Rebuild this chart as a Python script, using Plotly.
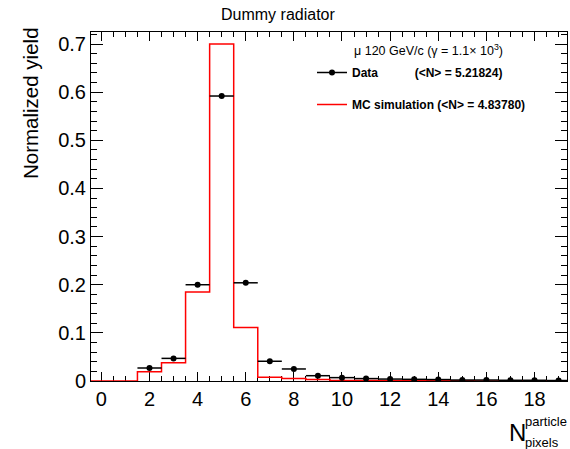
import plotly.graph_objects as go

# ---- data ----
bin_centers = list(range(0, 20))
mc_values = [0.0, 0.0, 0.019, 0.038, 0.185, 0.700, 0.111, 0.008, 0.005, 0.003,
             0.001, 0.001, 0.0006, 0.0004, 0.0003, 0.0003, 0.0002, 0.0002, 0.0002, 0.0002]
data_x = list(range(2, 20))
data_y = [0.027, 0.047, 0.200, 0.592, 0.204, 0.041, 0.025, 0.011, 0.007, 0.005,
          0.004, 0.0035, 0.003, 0.002, 0.002, 0.0015, 0.0015, 0.001]
bin_width = 1.0
x_ticks = list(range(0, 20, 2))
y_ticks = [0, 0.1, 0.2, 0.3, 0.4, 0.5, 0.6, 0.7]

FONT = "Liberation Sans, Arial, Helvetica, sans-serif"

# step histogram edges
edges = [c - bin_width / 2 for c in bin_centers] + [bin_centers[-1] + bin_width / 2]
step_y = mc_values + [mc_values[-1]]

fig = go.Figure()

fig.add_trace(go.Scatter(
    x=edges, y=step_y, mode="lines", line=dict(color="#ff0000", width=1.5, shape="hv"),
    name="<b>MC simulation (&lt;N&gt; = 4.83780)</b>", legendgroup="b", legendrank=2,
    cliponaxis=True,
))

fig.add_trace(go.Scatter(
    x=data_x, y=data_y, mode="markers",
    marker=dict(color="black", size=6),
    error_x=dict(type="constant", value=bin_width / 2, color="black", thickness=1.5, width=0),
    showlegend=False,
))

# legend entry for data (line through marker, ROOT style)
fig.add_trace(go.Scatter(
    x=[None], y=[None], mode="lines+markers",
    line=dict(color="black", width=1.5), marker=dict(color="black", size=6),
    name="<b>Data</b>" + "\u00a0" * 11 + "<b>(&lt;N&gt; = 5.21824)</b>",
    legendgroup="a", legendrank=1,
))

axis_common = dict(
    showline=True, linecolor="black", linewidth=1, mirror="allticks",
    ticks="inside", tickcolor="black", showgrid=False, zeroline=False,
    tickfont=dict(family=FONT, size=20, color="black"),
    layer="below traces",
)

fig.update_xaxes(
    range=[-0.43, 19.35], tickvals=x_ticks, ticklen=9, tickwidth=1,
    minor=dict(ticks="inside", dtick=0.5, tick0=0, ticklen=5, tickcolor="black", showgrid=False),
    **axis_common,
)
fig.update_yaxes(
    range=[0, 0.725], tickvals=y_ticks, ticktext=[f"{v:g}" for v in y_ticks],
    ticklen=12, tickwidth=1,
    minor=dict(ticks="inside", dtick=0.02, tick0=0, ticklen=6, tickcolor="black", showgrid=False),
    **axis_common,
)

L, R, T, B = 91, 3, 32, 68
PW, PH = 570 - L - R, 449 - T - B


def px(xp):
    return (xp - L) / PW


def py(yp):
    return (449 - B - yp) / PH


annotations = [
    dict(text="Dummy radiator", x=px(278), y=py(14), xref="paper", yref="paper",
         xanchor="center", yanchor="middle", showarrow=False,
         font=dict(family=FONT, size=16, color="black")),
    dict(text="Normalized yield", textangle=-90, xref="paper", yref="paper",
         x=px(30), y=py(25), xanchor="center", yanchor="top", showarrow=False,
         font=dict(family=FONT, size=20.5, color="black")),
    dict(text="\u03bc 120 GeV/c (\u03b3 = 1.1\u00d7 10<sup>3</sup>)", xref="paper", yref="paper",
         x=px(352), y=py(50), xanchor="left", yanchor="middle", showarrow=False,
         font=dict(family=FONT, size=12.5, color="black")),
    dict(text="N", xref="paper", yref="paper", x=px(507), y=py(448),
         xanchor="left", yanchor="bottom", showarrow=False,
         font=dict(family=FONT, size=24, color="black")),
    dict(text="particle", xref="paper", yref="paper", x=px(523), y=py(431),
         xanchor="left", yanchor="bottom", showarrow=False,
         font=dict(family=FONT, size=13, color="black")),
    dict(text="pixels", xref="paper", yref="paper", x=px(523), y=py(452),
         xanchor="left", yanchor="bottom", showarrow=False,
         font=dict(family=FONT, size=13, color="black")),
]

fig.update_layout(
    width=570, height=449,
    margin=dict(l=L, r=R, t=T, b=B, autoexpand=False),
    paper_bgcolor="white", plot_bgcolor="white",
    font=dict(family=FONT, color="black"),
    annotations=annotations,
    showlegend=True,
    legend=dict(
        x=px(312), y=py(58), xanchor="left", yanchor="top",
        bgcolor="rgba(0,0,0,0)", borderwidth=0,
        font=dict(family=FONT, size=12, color="black"),
        traceorder="grouped", tracegroupgap=13, itemwidth=30,
    ),
)

fig.write_html("out.html", config={"displayModeBar": False},
               post_script="document.body.style.margin='0px';")
